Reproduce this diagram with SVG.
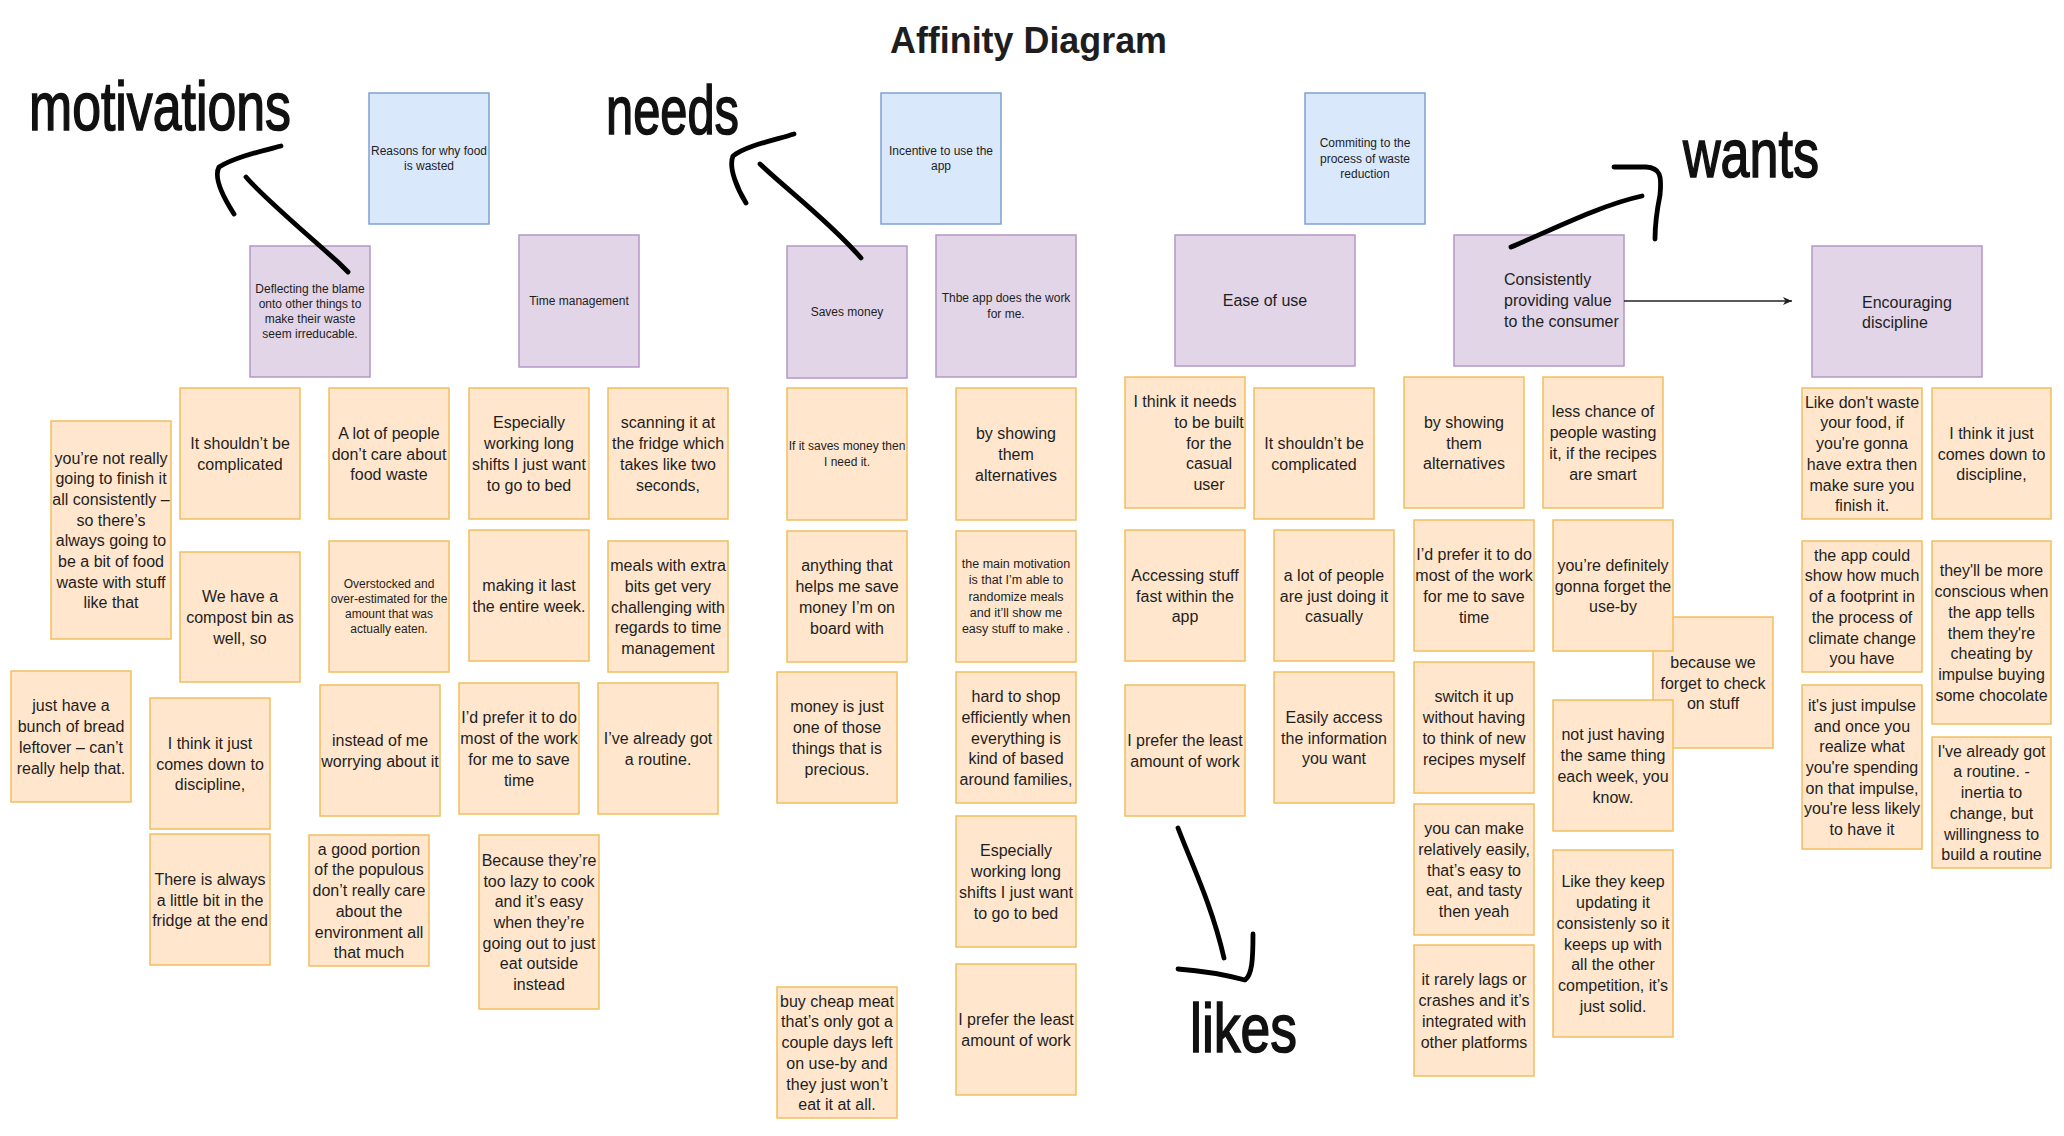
<svg xmlns="http://www.w3.org/2000/svg" width="2064" height="1136" viewBox="0 0 2064 1136">
<defs>
<style>
.y{fill:#ffe6cc;stroke:#f2bf5e;stroke-width:1.5}
.p{fill:#e1d5e7;stroke:#b497c6;stroke-width:1.5}
.b{fill:#dae8fc;stroke:#7ea1d3;stroke-width:1.5}
text{font-family:"Liberation Sans",Arial,Helvetica,sans-serif;fill:#1e1e1e}
.t{font-size:16px;text-anchor:middle;dominant-baseline:central}
.s{font-size:12px;text-anchor:middle;dominant-baseline:central}
.m{font-size:12.5px;text-anchor:middle;dominant-baseline:central}
.l{font-size:16px;text-anchor:start;dominant-baseline:central}
.hand{font-size:68px;fill:#111;stroke:#111;stroke-width:1.6}
.ink{fill:none;stroke:#000;stroke-width:4.8;stroke-linecap:round;stroke-linejoin:round}
.conn{fill:none;stroke:#222;stroke-width:1.3}
</style>
<marker id="arr" markerWidth="10" markerHeight="10" refX="9" refY="4" orient="auto" markerUnits="userSpaceOnUse">
<path d="M0,0 L9,4 L0,8 L2.5,4 z" fill="#222"/>
</marker>
</defs>
<rect width="2064" height="1136" fill="#fff"/>

<g id="title"><text x="890" y="53" font-size="36" font-weight="bold" textLength="277" lengthAdjust="spacingAndGlyphs">Affinity Diagram</text></g>

<g id="labels">
<text class="hand" x="29" y="130" textLength="262" lengthAdjust="spacingAndGlyphs">motivations</text>
<text class="hand" x="606" y="134" textLength="133" lengthAdjust="spacingAndGlyphs">needs</text>
<text class="hand" x="1683" y="177" textLength="136" lengthAdjust="spacingAndGlyphs">wants</text>
<text class="hand" x="1190" y="1052" textLength="107" lengthAdjust="spacingAndGlyphs">likes</text>
</g>

<g id="headers">
<g id="h-reasons"><rect class="b" x="369" y="93" width="120" height="131"/><text class="s"><tspan x="429" y="150.85">Reasons for why food</tspan><tspan x="429" dy="15.3">is wasted</tspan></text></g>
<g id="h-incentive"><rect class="b" x="881" y="93" width="120" height="131"/><text class="s"><tspan x="941" y="150.85">Incentive to use the</tspan><tspan x="941" dy="15.3">app</tspan></text></g>
<g id="h-commiting"><rect class="b" x="1305" y="93" width="120" height="131"/><text class="s"><tspan x="1365" y="143.2">Commiting to the</tspan><tspan x="1365" dy="15.3">process of waste</tspan><tspan x="1365" dy="15.3">reduction</tspan></text></g>
</g>

<g id="themes">
<g id="t-deflecting"><rect class="p" x="250" y="246" width="120" height="131"/><text class="s"><tspan x="310" y="288.55">Deflecting the blame</tspan><tspan x="310" dy="15.3">onto other things to</tspan><tspan x="310" dy="15.3">make their waste</tspan><tspan x="310" dy="15.3">seem irreducable.</tspan></text></g>
<g id="t-time"><rect class="p" x="519" y="235" width="120" height="132"/><text class="s" x="579" y="301">Time management</text></g>
<g id="t-saves"><rect class="p" x="787" y="246" width="120" height="132"/><text class="s" x="847" y="312">Saves money</text></g>
<g id="t-thbe"><rect class="p" x="936" y="235" width="140" height="142"/><text class="s"><tspan x="1006" y="298.35">Thbe app does the work</tspan><tspan x="1006" dy="15.3">for me.</tspan></text></g>
<g id="t-ease"><rect class="p" x="1175" y="235" width="180" height="131"/><text class="t" x="1265" y="300.5">Ease of use</text></g>
<g id="t-consistently"><rect class="p" x="1454" y="235" width="170" height="131"/><text class="l"><tspan x="1504" y="279.3">Consistently</tspan><tspan x="1504" dy="20.7">providing value</tspan><tspan x="1504" dy="20.7">to the consumer</tspan></text></g>
<g id="t-encouraging"><rect class="p" x="1812" y="246" width="170" height="131"/><text class="l"><tspan x="1862" y="301.5">Encouraging</tspan><tspan x="1862" dy="20.7">discipline</tspan></text></g>
</g>

<g id="connectors">
<line class="conn" x1="1624" y1="301" x2="1792" y2="301" marker-end="url(#arr)"/>
<path class="ink" d="M281,146 C262,151 235,157 219,167 C213,178 225,200 234,214"/>
<path class="ink" d="M246,177 C262,196 300,228 339,263 L348,272"/>
<path class="ink" d="M794,134 C775,140 745,146 733,156 C728,168 738,190 746,203"/>
<path class="ink" d="M760,164 C785,188 830,222 861,258"/>
<path class="ink" d="M1511,247 C1545,233 1600,205 1642,196"/>
<path class="ink" d="M1614,167 L1646,167 C1660,168 1662,175 1660,195 C1656,215 1655,225 1655,239"/>
<path class="ink" d="M1178,828 C1190,860 1212,905 1224,958"/>
<path class="ink" d="M1178,969 C1205,971 1230,976 1245,980 C1252,975 1253,960 1253,934"/>
</g>

<g id="notes">
<g id="n01"><rect class="y" x="51" y="421" width="120" height="218"/><text class="t"><tspan x="111" y="457.55">you’re not really</tspan><tspan x="111" dy="20.7">going to finish it</tspan><tspan x="111" dy="20.7">all consistently –</tspan><tspan x="111" dy="20.7">so there’s</tspan><tspan x="111" dy="20.7">always going to</tspan><tspan x="111" dy="20.7">be a bit of food</tspan><tspan x="111" dy="20.7">waste with stuff</tspan><tspan x="111" dy="20.7">like that</tspan></text></g>
<g id="n02"><rect class="y" x="180" y="388" width="120" height="131"/><text class="t"><tspan x="240" y="443.15">It shouldn’t be</tspan><tspan x="240" dy="20.7">complicated</tspan></text></g>
<g id="n03"><rect class="y" x="180" y="552" width="120" height="130"/><text class="t"><tspan x="240" y="596.3">We have a</tspan><tspan x="240" dy="20.7">compost bin as</tspan><tspan x="240" dy="20.7">well, so</tspan></text></g>
<g id="n04"><rect class="y" x="11" y="671" width="120" height="131"/><text class="t"><tspan x="71" y="705.45">just have a</tspan><tspan x="71" dy="20.7">bunch of bread</tspan><tspan x="71" dy="20.7">leftover – can’t</tspan><tspan x="71" dy="20.7">really help that.</tspan></text></g>
<g id="n05"><rect class="y" x="150" y="698" width="120" height="131"/><text class="t"><tspan x="210" y="742.8">I think it just</tspan><tspan x="210" dy="20.7">comes down to</tspan><tspan x="210" dy="20.7">discipline,</tspan></text></g>
<g id="n06"><rect class="y" x="150" y="834" width="120" height="131"/><text class="t"><tspan x="210" y="878.8">There is always</tspan><tspan x="210" dy="20.7">a little bit in the</tspan><tspan x="210" dy="20.7">fridge at the end</tspan></text></g>
<g id="n07"><rect class="y" x="329" y="388" width="120" height="131"/><text class="t"><tspan x="389" y="432.8">A lot of people</tspan><tspan x="389" dy="20.7">don’t care about</tspan><tspan x="389" dy="20.7">food waste</tspan></text></g>
<g id="n08"><rect class="y" x="329" y="541" width="120" height="131"/><text class="s"><tspan x="389" y="583.55">Overstocked and</tspan><tspan x="389" dy="15.3">over-estimated for the</tspan><tspan x="389" dy="15.3">amount that was</tspan><tspan x="389" dy="15.3">actually eaten.</tspan></text></g>
<g id="n09"><rect class="y" x="320" y="685" width="120" height="131"/><text class="t"><tspan x="380" y="740.15">instead of me</tspan><tspan x="380" dy="20.7">worrying about it</tspan></text></g>
<g id="n10"><rect class="y" x="309" y="835" width="120" height="131"/><text class="t"><tspan x="369" y="848.75">a good portion</tspan><tspan x="369" dy="20.7">of the populous</tspan><tspan x="369" dy="20.7">don’t really care</tspan><tspan x="369" dy="20.7">about the</tspan><tspan x="369" dy="20.7">environment all</tspan><tspan x="369" dy="20.7">that much</tspan></text></g>
<g id="n11"><rect class="y" x="469" y="388" width="120" height="131"/><text class="t"><tspan x="529" y="422.45">Especially</tspan><tspan x="529" dy="20.7">working long</tspan><tspan x="529" dy="20.7">shifts I just want</tspan><tspan x="529" dy="20.7">to go to bed</tspan></text></g>
<g id="n12"><rect class="y" x="469" y="530" width="120" height="131"/><text class="t"><tspan x="529" y="585.15">making it last</tspan><tspan x="529" dy="20.7">the entire week.</tspan></text></g>
<g id="n13"><rect class="y" x="459" y="683" width="120" height="131"/><text class="t"><tspan x="519" y="717.45">I’d prefer it to do</tspan><tspan x="519" dy="20.7">most of the work</tspan><tspan x="519" dy="20.7">for me to save</tspan><tspan x="519" dy="20.7">time</tspan></text></g>
<g id="n14"><rect class="y" x="479" y="835" width="120" height="174"/><text class="t"><tspan x="539" y="859.9">Because they’re</tspan><tspan x="539" dy="20.7">too lazy to cook</tspan><tspan x="539" dy="20.7">and it’s easy</tspan><tspan x="539" dy="20.7">when they’re</tspan><tspan x="539" dy="20.7">going out to just</tspan><tspan x="539" dy="20.7">eat outside</tspan><tspan x="539" dy="20.7">instead</tspan></text></g>
<g id="n15"><rect class="y" x="608" y="388" width="120" height="131"/><text class="t"><tspan x="668" y="422.45">scanning it at</tspan><tspan x="668" dy="20.7">the fridge which</tspan><tspan x="668" dy="20.7">takes like two</tspan><tspan x="668" dy="20.7">seconds,</tspan></text></g>
<g id="n16"><rect class="y" x="608" y="541" width="120" height="131"/><text class="t"><tspan x="668" y="565.1">meals with extra</tspan><tspan x="668" dy="20.7">bits get very</tspan><tspan x="668" dy="20.7">challenging with</tspan><tspan x="668" dy="20.7">regards to time</tspan><tspan x="668" dy="20.7">management</tspan></text></g>
<g id="n17"><rect class="y" x="598" y="683" width="120" height="131"/><text class="t"><tspan x="658" y="738.15">I’ve already got</tspan><tspan x="658" dy="20.7">a routine.</tspan></text></g>
<g id="n18"><rect class="y" x="787" y="388" width="120" height="132"/><text class="s"><tspan x="847" y="446.35">If it saves money then</tspan><tspan x="847" dy="15.3">I need it.</tspan></text></g>
<g id="n19"><rect class="y" x="787" y="531" width="120" height="131"/><text class="t"><tspan x="847" y="565.45">anything that</tspan><tspan x="847" dy="20.7">helps me save</tspan><tspan x="847" dy="20.7">money I’m on</tspan><tspan x="847" dy="20.7">board with</tspan></text></g>
<g id="n20"><rect class="y" x="777" y="672" width="120" height="131"/><text class="t"><tspan x="837" y="706.45">money is just</tspan><tspan x="837" dy="20.7">one of those</tspan><tspan x="837" dy="20.7">things that is</tspan><tspan x="837" dy="20.7">precious.</tspan></text></g>
<g id="n21"><rect class="y" x="777" y="987" width="120" height="131"/><text class="t"><tspan x="837" y="1000.75">buy cheap meat</tspan><tspan x="837" dy="20.7">that’s only got a</tspan><tspan x="837" dy="20.7">couple days left</tspan><tspan x="837" dy="20.7">on use-by and</tspan><tspan x="837" dy="20.7">they just won’t</tspan><tspan x="837" dy="20.7">eat it at all.</tspan></text></g>
<g id="n22"><rect class="y" x="956" y="388" width="120" height="132"/><text class="t"><tspan x="1016" y="433.3">by showing</tspan><tspan x="1016" dy="20.7">them</tspan><tspan x="1016" dy="20.7">alternatives</tspan></text></g>
<g id="n23"><rect class="y" x="956" y="531" width="120" height="131"/><text class="m"><tspan x="1016" y="563.9">the main motivation</tspan><tspan x="1016" dy="16.3">is that I’m able to</tspan><tspan x="1016" dy="16.3">randomize meals</tspan><tspan x="1016" dy="16.3">and it’ll show me</tspan><tspan x="1016" dy="16.3">easy stuff to make .</tspan></text></g>
<g id="n24"><rect class="y" x="956" y="672" width="120" height="131"/><text class="t"><tspan x="1016" y="696.1">hard to shop</tspan><tspan x="1016" dy="20.7">efficiently when</tspan><tspan x="1016" dy="20.7">everything is</tspan><tspan x="1016" dy="20.7">kind of based</tspan><tspan x="1016" dy="20.7">around families,</tspan></text></g>
<g id="n25"><rect class="y" x="956" y="816" width="120" height="131"/><text class="t"><tspan x="1016" y="850.45">Especially</tspan><tspan x="1016" dy="20.7">working long</tspan><tspan x="1016" dy="20.7">shifts I just want</tspan><tspan x="1016" dy="20.7">to go to bed</tspan></text></g>
<g id="n26"><rect class="y" x="956" y="964" width="120" height="131"/><text class="t"><tspan x="1016" y="1019.15">I prefer the least</tspan><tspan x="1016" dy="20.7">amount of work</tspan></text></g>
<g id="n27"><rect class="y" x="1125" y="377" width="120" height="131"/><text class="t"><tspan x="1185" y="401.1">I think it needs</tspan><tspan x="1209" dy="20.7">to be built</tspan><tspan x="1209" dy="20.7">for the</tspan><tspan x="1209" dy="20.7">casual</tspan><tspan x="1209" dy="20.7">user</tspan></text></g>
<g id="n28"><rect class="y" x="1254" y="388" width="120" height="131"/><text class="t"><tspan x="1314" y="443.15">It shouldn’t be</tspan><tspan x="1314" dy="20.7">complicated</tspan></text></g>
<g id="n29"><rect class="y" x="1125" y="530" width="120" height="131"/><text class="t"><tspan x="1185" y="574.8">Accessing stuff</tspan><tspan x="1185" dy="20.7">fast within the</tspan><tspan x="1185" dy="20.7">app</tspan></text></g>
<g id="n30"><rect class="y" x="1274" y="530" width="120" height="131"/><text class="t"><tspan x="1334" y="574.8">a lot of people</tspan><tspan x="1334" dy="20.7">are just doing it</tspan><tspan x="1334" dy="20.7">casually</tspan></text></g>
<g id="n31"><rect class="y" x="1125" y="685" width="120" height="131"/><text class="t"><tspan x="1185" y="740.15">I prefer the least</tspan><tspan x="1185" dy="20.7">amount of work</tspan></text></g>
<g id="n32"><rect class="y" x="1274" y="672" width="120" height="131"/><text class="t"><tspan x="1334" y="716.8">Easily access</tspan><tspan x="1334" dy="20.7">the information</tspan><tspan x="1334" dy="20.7">you want</tspan></text></g>
<g id="n37"><rect class="y" x="1653" y="617" width="120" height="131"/><text class="t"><tspan x="1713" y="661.8">because we</tspan><tspan x="1713" dy="20.7">forget to check</tspan><tspan x="1713" dy="20.7">on stuff</tspan></text></g>
<g id="n33"><rect class="y" x="1404" y="377" width="120" height="131"/><text class="t"><tspan x="1464" y="421.8">by showing</tspan><tspan x="1464" dy="20.7">them</tspan><tspan x="1464" dy="20.7">alternatives</tspan></text></g>
<g id="n34"><rect class="y" x="1543" y="377" width="120" height="131"/><text class="t"><tspan x="1603" y="411.45">less chance of</tspan><tspan x="1603" dy="20.7">people wasting</tspan><tspan x="1603" dy="20.7">it, if the recipes</tspan><tspan x="1603" dy="20.7">are smart</tspan></text></g>
<g id="n35"><rect class="y" x="1414" y="520" width="120" height="131"/><text class="t"><tspan x="1474" y="554.45">I’d prefer it to do</tspan><tspan x="1474" dy="20.7">most of the work</tspan><tspan x="1474" dy="20.7">for me to save</tspan><tspan x="1474" dy="20.7">time</tspan></text></g>
<g id="n36"><rect class="y" x="1553" y="520" width="120" height="131"/><text class="t"><tspan x="1613" y="564.8">you’re definitely</tspan><tspan x="1613" dy="20.7">gonna forget the</tspan><tspan x="1613" dy="20.7">use-by</tspan></text></g>
<g id="n38"><rect class="y" x="1414" y="662" width="120" height="131"/><text class="t"><tspan x="1474" y="696.45">switch it up</tspan><tspan x="1474" dy="20.7">without having</tspan><tspan x="1474" dy="20.7">to think of new</tspan><tspan x="1474" dy="20.7">recipes myself</tspan></text></g>
<g id="n39"><rect class="y" x="1553" y="700" width="120" height="131"/><text class="t"><tspan x="1613" y="734.45">not just having</tspan><tspan x="1613" dy="20.7">the same thing</tspan><tspan x="1613" dy="20.7">each week, you</tspan><tspan x="1613" dy="20.7">know.</tspan></text></g>
<g id="n40"><rect class="y" x="1414" y="804" width="120" height="131"/><text class="t"><tspan x="1474" y="828.1">you can make</tspan><tspan x="1474" dy="20.7">relatively easily,</tspan><tspan x="1474" dy="20.7">that’s easy to</tspan><tspan x="1474" dy="20.7">eat, and tasty</tspan><tspan x="1474" dy="20.7">then yeah</tspan></text></g>
<g id="n41"><rect class="y" x="1553" y="850" width="120" height="187"/><text class="t"><tspan x="1613" y="881.4">Like they keep</tspan><tspan x="1613" dy="20.7">updating it</tspan><tspan x="1613" dy="20.7">consistenly so it</tspan><tspan x="1613" dy="20.7">keeps up with</tspan><tspan x="1613" dy="20.7">all the other</tspan><tspan x="1613" dy="20.7">competition, it’s</tspan><tspan x="1613" dy="20.7">just solid.</tspan></text></g>
<g id="n42"><rect class="y" x="1414" y="945" width="120" height="131"/><text class="t"><tspan x="1474" y="979.45">it rarely lags or</tspan><tspan x="1474" dy="20.7">crashes and it’s</tspan><tspan x="1474" dy="20.7">integrated with</tspan><tspan x="1474" dy="20.7">other platforms</tspan></text></g>
<g id="n43"><rect class="y" x="1802" y="388" width="120" height="131"/><text class="t"><tspan x="1862" y="401.75">Like don't waste</tspan><tspan x="1862" dy="20.7">your food, if</tspan><tspan x="1862" dy="20.7">you're gonna</tspan><tspan x="1862" dy="20.7">have extra then</tspan><tspan x="1862" dy="20.7">make sure you</tspan><tspan x="1862" dy="20.7">finish it.</tspan></text></g>
<g id="n44"><rect class="y" x="1932" y="388" width="119" height="131"/><text class="t"><tspan x="1991.5" y="432.8">I think it just</tspan><tspan x="1991.5" dy="20.7">comes down to</tspan><tspan x="1991.5" dy="20.7">discipline,</tspan></text></g>
<g id="n45"><rect class="y" x="1802" y="541" width="120" height="131"/><text class="t"><tspan x="1862" y="554.75">the app could</tspan><tspan x="1862" dy="20.7">show how much</tspan><tspan x="1862" dy="20.7">of a footprint in</tspan><tspan x="1862" dy="20.7">the process of</tspan><tspan x="1862" dy="20.7">climate change</tspan><tspan x="1862" dy="20.7">you have</tspan></text></g>
<g id="n46"><rect class="y" x="1932" y="541" width="119" height="183"/><text class="t"><tspan x="1991.5" y="570.4">they'll be more</tspan><tspan x="1991.5" dy="20.7">conscious when</tspan><tspan x="1991.5" dy="20.7">the app tells</tspan><tspan x="1991.5" dy="20.7">them they're</tspan><tspan x="1991.5" dy="20.7">cheating by</tspan><tspan x="1991.5" dy="20.7">impulse buying</tspan><tspan x="1991.5" dy="20.7">some chocolate</tspan></text></g>
<g id="n47"><rect class="y" x="1802" y="685" width="120" height="164"/><text class="t"><tspan x="1862" y="704.9">it's just impulse</tspan><tspan x="1862" dy="20.7">and once you</tspan><tspan x="1862" dy="20.7">realize what</tspan><tspan x="1862" dy="20.7">you're spending</tspan><tspan x="1862" dy="20.7">on that impulse,</tspan><tspan x="1862" dy="20.7">you're less likely</tspan><tspan x="1862" dy="20.7">to have it</tspan></text></g>
<g id="n48"><rect class="y" x="1932" y="737" width="119" height="131"/><text class="t"><tspan x="1991.5" y="750.75">I've already got</tspan><tspan x="1991.5" dy="20.7">a routine. -</tspan><tspan x="1991.5" dy="20.7">inertia to</tspan><tspan x="1991.5" dy="20.7">change, but</tspan><tspan x="1991.5" dy="20.7">willingness to</tspan><tspan x="1991.5" dy="20.7">build a routine</tspan></text></g>
</g>
</svg>
